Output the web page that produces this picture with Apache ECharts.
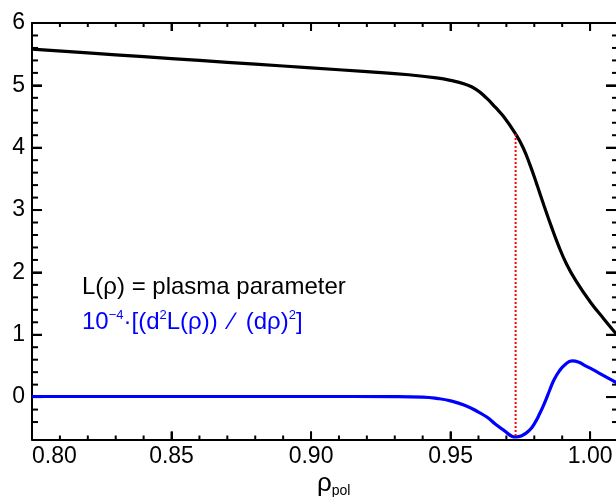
<!DOCTYPE html>
<html>
<head>
<meta charset="utf-8">
<script src="https://cdn.jsdelivr.net/npm/echarts@6/dist/echarts.min.js"></script>
<style>
  html, body { margin: 0; padding: 0; background: #ffffff; }
  #chart { width: 616px; height: 497px; background: #ffffff; }
</style>
</head>
<body>
<div id="chart"></div>
<script>
// Profile L(rho) of the plasma parameter across the edge
const rhoL = [0.800, 0.820, 0.840, 0.860, 0.880, 0.900, 0.920, 0.935, 0.945, 0.950,
              0.955, 0.959, 0.963, 0.966, 0.969, 0.9733, 0.976, 0.9785, 0.981, 0.9835,
              0.986, 0.9885, 0.9915, 0.995, 1.000, 1.005, 1.010];
const valL = [5.58, 5.52, 5.46, 5.40, 5.34, 5.28, 5.22, 5.17, 5.12, 5.08,
              5.02, 4.94, 4.79, 4.65, 4.50, 4.22, 4.00, 3.72, 3.40, 3.07,
              2.75, 2.45, 2.14, 1.86, 1.53, 1.25, 0.98];

// Scaled second derivative 1e-4 * d2L/drho2
const rhoD = [0.800, 0.850, 0.900, 0.930, 0.940, 0.945, 0.950, 0.955, 0.960, 0.963,
              0.966, 0.969, 0.9733, 0.9755, 0.9783, 0.980, 0.982, 0.984, 0.9855, 0.987,
              0.989, 0.991, 0.9935, 0.996, 0.998, 1.001, 1.005, 1.010];
const valD = [0.01, 0.01, 0.01, 0.008, 0.0, -0.02, -0.06, -0.13, -0.24, -0.32,
              -0.43, -0.53, -0.64, -0.62, -0.53, -0.43, -0.26, -0.06, 0.11, 0.27,
              0.42, 0.52, 0.58, 0.56, 0.51, 0.44, 0.34, 0.22];

// Vertical marker at the minimum of the second derivative
const markerRho = 0.9733;
const markerTop = 4.22;
const markerBottom = -0.64;

// Axis ranges and ticks
const xRange = [0.80, 1.01];
const yRange = [-0.68, 6];
const xMajorTicks = [0.80, 0.85, 0.90, 0.95, 1.00];
const xMinorTicks = [0.81, 0.82, 0.83, 0.84, 0.86, 0.87, 0.88, 0.89, 0.91, 0.92, 0.93, 0.94,
                     0.96, 0.97, 0.98, 0.99];
const yMajorTicks = [0, 1, 2, 3, 4, 5, 6];
const yMinorTicks = [-0.4, -0.2, 0.2, 0.4, 0.6, 0.8, 1.2, 1.4, 1.6, 1.8, 2.2, 2.4, 2.6, 2.8,
                     3.2, 3.4, 3.6, 3.8, 4.2, 4.4, 4.6, 4.8, 5.2, 5.4, 5.6, 5.8];

const FONT = '"Liberation Sans", Arial, Helvetica, sans-serif';
const zipPts = (xs, ys) => xs.map((x, i) => [x, ys[i]]);

// the first label sits at the left frame, so it is pushed right inside its box
const xLabel = v => (Math.abs(v - xRange[0]) < 1e-9 ? '       ' : '') + v.toFixed(2);

// tick kinds: 0 x major, 1 x minor, 2 y major, 3 y minor
const tickItems = [].concat(
  xMajorTicks.map(v => [v, yRange[0], 0]),
  xMinorTicks.map(v => [v, yRange[0], 1]),
  yMajorTicks.map(v => [xRange[0], v, 2]),
  yMinorTicks.map(v => [xRange[0], v, 3])
);

// inward ticks on all four sides of the frame
function renderTick(params, api) {
  const cs = params.coordSys;
  const kind = api.value(2);
  const p = api.coord([api.value(0), api.value(1)]);
  const st = { stroke: '#000', lineWidth: 2 };
  if (kind === 0 || kind === 1) {
    const len = kind === 0 ? 8 : 4;
    const bottom = cs.y + cs.height;
    return {
      type: 'group',
      children: [
        { type: 'line', shape: { x1: p[0], y1: bottom, x2: p[0], y2: bottom - len }, style: st },
        { type: 'line', shape: { x1: p[0], y1: cs.y, x2: p[0], y2: cs.y + len }, style: st }
      ]
    };
  }
  const lenL = kind === 2 ? 10 : 6;
  const lenR = kind === 2 ? 12 : 6;
  const right = cs.x + cs.width;
  return {
    type: 'group',
    children: [
      { type: 'line', shape: { x1: cs.x, y1: p[1], x2: cs.x + lenL, y2: p[1] }, style: st },
      { type: 'line', shape: { x1: right, y1: p[1], x2: right - lenR, y2: p[1] }, style: st }
    ]
  };
}

function frameAxis(position, range, withLabels, labelOpts, majors, majorLen) {
  return {
    type: 'value', position: position, min: range[0], max: range[1],
    axisLine: { show: true, onZero: false, lineStyle: { color: '#000', width: 2 } },
    axisTick: { show: true, inside: true, length: majorLen, customValues: majors.slice(),
                lineStyle: { color: '#000', width: 2 } },
    axisLabel: withLabels ? labelOpts : { show: false },
    splitLine: { show: false }
  };
}

const chart = echarts.init(document.getElementById('chart'));

chart.setOption({
  animation: false,
  title: [
    {
      text: 'L(ρ) = plasma parameter', left: 82, top: 275, padding: 0,
      textStyle: { fontFamily: FONT, fontSize: 24, fontWeight: 'normal', color: '#000' }
    },
    {
      text: '{m|10}{s|−4}{m|·[(d}{s|2}{m|L(ρ))\u2002∕\u2002(dρ)}{s|2}{m|]}',
      left: 82, top: 309, padding: 0,
      textStyle: {
        color: '#0000ff', fontWeight: 'normal',
        rich: {
          m: { fontFamily: FONT, fontSize: 24, lineHeight: 26, fontWeight: 'normal', color: '#0000ff' },
          s: { fontFamily: FONT, fontSize: 13, lineHeight: 14, verticalAlign: 'top', fontWeight: 'normal', color: '#0000ff' }
        }
      }
    },
    {
      text: '{r|ρ}{p|pol}', left: 317, top: 470, padding: 0,
      textStyle: {
        color: '#000', fontWeight: 'normal',
        rich: {
          r: { fontFamily: FONT, fontSize: 26, lineHeight: 28, fontWeight: 'normal', color: '#000' },
          p: { fontFamily: FONT, fontSize: 14, lineHeight: 14, verticalAlign: 'bottom', fontWeight: 'normal', color: '#000' }
        }
      }
    }
  ],
  grid: { left: 32, right: -2, top: 23, bottom: 57.5, outerBoundsMode: 'none' },
  xAxis: [
    frameAxis('bottom', xRange, true, {
      show: true, customValues: xMajorTicks.slice(), margin: 6, color: '#000',
      fontFamily: FONT, fontSize: 23, formatter: xLabel
    }, xMajorTicks, 8),
    frameAxis('top', xRange, false, null, xMajorTicks, 8)
  ],
  yAxis: [
    frameAxis('left', yRange, true, {
      show: true, customValues: yMajorTicks.slice(), margin: 7, color: '#000',
      fontFamily: FONT, fontSize: 23, formatter: v => String(v)
    }, yMajorTicks, 10),
    frameAxis('right', yRange, false, null, yMajorTicks, 12)
  ],
  series: [
    {
      type: 'custom', xAxisIndex: 0, yAxisIndex: 0, z: 1, silent: true,
      data: tickItems, renderItem: renderTick
    },
    {
      type: 'line', xAxisIndex: 0, yAxisIndex: 0,
      data: zipPts(rhoL, valL), smooth: true, showSymbol: false,
      lineStyle: { color: '#000000', width: 3.2 }
    },
    {
      type: 'line', xAxisIndex: 0, yAxisIndex: 0,
      data: zipPts(rhoD, valD), smooth: true, showSymbol: false,
      lineStyle: { color: '#0000ff', width: 3.2 }
    },
    {
      type: 'line', xAxisIndex: 0, yAxisIndex: 0,
      data: [[markerRho, markerTop], [markerRho, markerBottom]], showSymbol: false,
      lineStyle: { color: '#ff0000', width: 2, type: 'dotted' }
    }
  ]
});
</script>
</body>
</html>
